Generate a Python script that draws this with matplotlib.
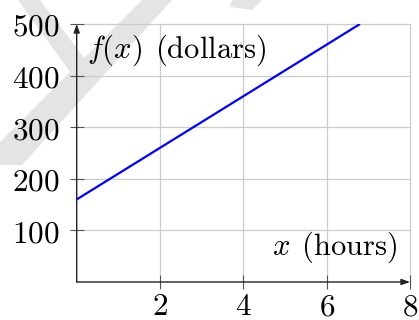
import matplotlib
matplotlib.use("Agg")
import matplotlib.pyplot as plt
from matplotlib.patches import Polygon

plt.rcParams["mathtext.fontset"] = "cm"
plt.rcParams["font.family"] = "serif"
plt.rcParams["font.serif"] = ["DejaVu Serif"]

# Linear cost model: f(x) = 160 + 50x, drawn until it leaves the top of the plot
hours = [0.0, 6.8]
dollars = [160, 500]

x_ticks = [2, 4, 6, 8]
y_ticks = [100, 200, 300, 400, 500]
x_label = r"$x\;\,\mathrm{(hours)}$"
y_label = r"$f(x)\;\,\mathrm{(dollars)}$"

W, H = 419, 320
fig = plt.figure(figsize=(W / 100, H / 100), dpi=100)

# faint diagonal watermark strokes behind the plot
wm = "#e4e4e4"
for pts in [
    [(18, 0), (40, 0), (92, 68), (76, 80)],
    [(142, 0), (172, 0), (22, 165), (0, 165), (0, 142)],
    [(232, 0), (262, 0), (252, 10), (230, 7)],
]:
    fig.patches.append(Polygon([(px / W, 1 - py / H) for px, py in pts],
                               closed=True, transform=fig.transFigure,
                               facecolor=wm, edgecolor="none", zorder=-5))

left, right = 76.7 / W, 410 / W
bottom, top = 1 - 282 / H, 1 - 24 / H
ax = fig.add_axes([left, bottom, right - left, top - bottom])
ax.set_zorder(2)
ax.patch.set_alpha(0)
ax.set_xlim(0, 8)
ax.set_ylim(0, 500)

for s in ax.spines.values():
    s.set_visible(False)

ax.set_xticks(x_ticks)
ax.set_yticks(y_ticks)
ax.set_xticklabels([rf"${t}$" for t in x_ticks])
ax.set_yticklabels([rf"${t}$" for t in y_ticks])
ax.tick_params(axis="both", direction="inout", length=10, width=0.8,
               color="#555555", labelsize=22.5, labelcolor="black")
ax.tick_params(axis="x", pad=1.5)
ax.tick_params(axis="y", pad=7)

ax.grid(True, color="#cccccc", linewidth=0.9)
for gl in ax.get_xgridlines() + ax.get_ygridlines():
    gl.set_clip_on(False)

# axis lines with arrow heads
arrow = dict(arrowstyle="-|>,head_length=0.5,head_width=0.18", color="#222222",
             linewidth=1.0, shrinkA=0, shrinkB=0)
ax.annotate("", xy=(8, 0), xytext=(0, 0), arrowprops=arrow,
            annotation_clip=False, zorder=3)
ax.annotate("", xy=(0, 500), xytext=(0, 0), arrowprops=arrow,
            annotation_clip=False, zorder=3)

ax.plot(hours, dollars, color="#0000ff", linewidth=1.6, zorder=4,
        solid_capstyle="butt")

ax.text(0.24, 450, y_label, fontsize=22, ha="left", va="center", color="black")
ax.text(7.7, 68, x_label, fontsize=22, ha="right", va="center", color="black")

fig.savefig("out.png", dpi=100)
